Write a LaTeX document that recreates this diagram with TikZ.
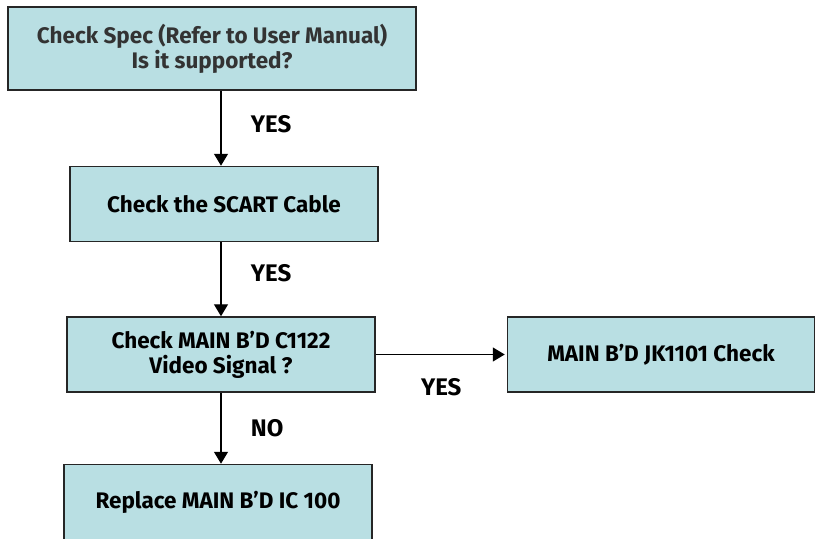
\documentclass[tikz,border=0pt]{standalone}
\usepackage{fontspec}
\setmainfont{Fira Sans}
\usepackage{tikz}
\usetikzlibrary{arrows.meta,positioning}

\definecolor{boxfill}{HTML}{B9DFE3}

\begin{document}
\begin{tikzpicture}[
  x=1pt, y=1pt,
  font=\bfseries\fontsize{22.5}{25}\selectfont,
  box/.style={draw=black!85, fill=boxfill, line width=1.5pt, align=center, minimum width=308pt, minimum height=75pt, inner sep=3pt},
  arr/.style={-{Triangle[width=14pt,length=12pt]}, line width=1.3pt},
  lbl/.style={font=\bfseries\fontsize{24}{26}\selectfont}
]
\useasboundingbox (0,0) rectangle (816,-538);

% --- main column ---
\node[box, minimum width=408pt, minimum height=83pt, text=black!80] (spec) at (212,-48.5) {Check Spec (Refer to User Manual)\\Is it supported?};
\node[box, below=75pt of spec, xshift=12pt] (scart) {Check the SCART Cable};
\node[box, below=74pt of scart, xshift=-3pt] (vsig) {Check MAIN B'D C1122\\Video Signal ?};
\node[box, below=71pt of vsig, xshift=-3pt] (repl) {Replace MAIN B'D IC 100};

% --- side branch ---
\node[box, minimum width=307pt, right=131pt of vsig] (jack) {MAIN B'D JK1101 Check};

\draw[arr] (spec.south -| vsig) -- node[lbl, pos=0.45, right=26pt] {YES} (scart.north -| vsig);
\draw[arr] (scart.south -| vsig) -- node[lbl, pos=0.42, right=26pt] {YES} (vsig.north);
\draw[arr] (vsig.south) -- node[lbl, midway, right=26pt] {NO} (repl.north -| vsig);
\draw[arr, shorten >=2pt] (vsig.east) -- node[lbl, midway, below=20pt] {YES} (jack.west);

\end{tikzpicture}
\end{document}
